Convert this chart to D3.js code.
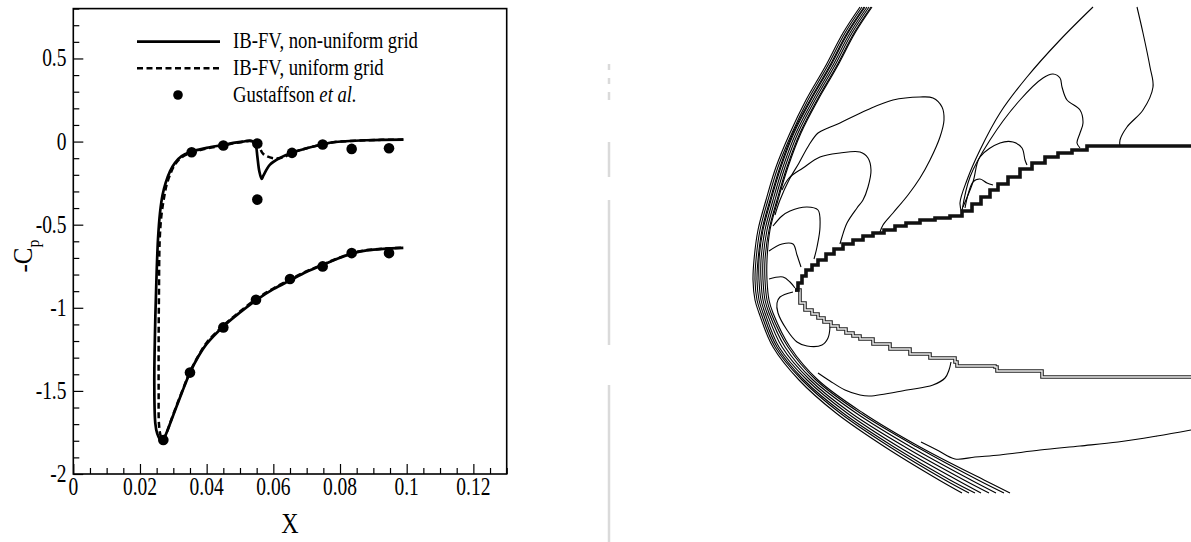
<!DOCTYPE html>
<html>
<head>
<meta charset="utf-8">
<script src="https://cdn.jsdelivr.net/npm/d3@7"></script>
<style>
  html, body { margin: 0; padding: 0; background: #fff; }
  svg { display: block; }
  text { font-family: "Liberation Serif", "Times New Roman", serif; fill: #000; }
</style>
</head>
<body>
<svg id="fig" width="1191" height="542"></svg>
<script>
// ---------- Surface pressure coefficient (left panel) ----------
const xTicks = [0, 0.02, 0.04, 0.06, 0.08, 0.1, 0.12];
const xTickLabels = ["0", "0.02", "0.04", "0.06", "0.08", "0.1", "0.12"];
const yTicks = [-2, -1.5, -1, -0.5, 0, 0.5];
const yTickLabels = ["-2", "-1.5", "-1", "-0.5", "0", "0.5"];

// IB-FV, non-uniform grid: [X, -Cp]
const nonUniform = [
  [0.099, 0.012], [0.088, 0.008], [0.078, -0.004], [0.075, -0.016], [0.070, -0.04],
  [0.066, -0.064], [0.062, -0.098], [0.059, -0.139], [0.057, -0.205], [0.0565, -0.225],
  [0.0558, -0.179], [0.0552, -0.088], [0.0548, -0.028], [0.0542, -0.004], [0.053, 0.006],
  [0.0515, 0.002], [0.048, -0.008], [0.045, -0.02], [0.040, -0.038], [0.0355, -0.06],
  [0.0325, -0.088], [0.0305, -0.128], [0.029, -0.179], [0.0277, -0.249], [0.0268, -0.319],
  [0.026, -0.43], [0.0254, -0.59], [0.0249, -0.851], [0.0245, -1.153], [0.0243, -1.454],
  [0.0246, -1.695], [0.0252, -1.759], [0.026, -1.791], [0.0268, -1.799], [0.0277, -1.765],
  [0.030, -1.645], [0.0325, -1.514], [0.035, -1.39], [0.0375, -1.293], [0.040, -1.217],
  [0.045, -1.112], [0.050, -1.028], [0.055, -0.952], [0.060, -0.888], [0.065, -0.835],
  [0.070, -0.783], [0.075, -0.741], [0.080, -0.699], [0.084, -0.671], [0.088, -0.655],
  [0.093, -0.645], [0.099, -0.639]
];

// IB-FV, uniform grid: [X, -Cp]
const uniform = [
  [0.099, 0.012], [0.088, 0.008], [0.078, -0.004], [0.075, -0.016], [0.070, -0.04],
  [0.066, -0.064], [0.063, -0.095], [0.060, -0.1], [0.057, -0.075], [0.0555, -0.02],
  [0.0545, -0.002], [0.053, 0.004], [0.0515, 0.0], [0.048, -0.01], [0.045, -0.024],
  [0.040, -0.042], [0.0355, -0.066], [0.0325, -0.095], [0.0305, -0.138], [0.0292, -0.19],
  [0.028, -0.26], [0.0272, -0.34], [0.0264, -0.45], [0.0259, -0.6], [0.0257, -0.9],
  [0.0256, -1.2], [0.0256, -1.5], [0.0257, -1.7], [0.0262, -1.77], [0.0268, -1.795],
  [0.0278, -1.76], [0.030, -1.64], [0.0325, -1.51], [0.035, -1.385], [0.0375, -1.29],
  [0.040, -1.21], [0.045, -1.108], [0.050, -1.022], [0.055, -0.946], [0.060, -0.884],
  [0.065, -0.83], [0.070, -0.78], [0.075, -0.738], [0.080, -0.697], [0.084, -0.669],
  [0.088, -0.653], [0.093, -0.644], [0.099, -0.638]
];

// Gustaffson et al. reference data: [X, -Cp]
const gustaffson = [
  [0.0355, -0.064], [0.045, -0.024], [0.0552, -0.012], [0.0552, -0.349], [0.0656, -0.068],
  [0.0748, -0.018], [0.0835, -0.044], [0.0947, -0.04],
  [0.027, -1.795], [0.035, -1.39], [0.045, -1.118], [0.0548, -0.952], [0.065, -0.827],
  [0.0748, -0.751], [0.0835, -0.671], [0.0947, -0.671]
];

const legendLabels = ["IB-FV, non-uniform grid", "IB-FV, uniform grid", "Gustaffson "];

// ---------- Pressure contours around the nose (right panel) ----------
// grid coordinates (i, j), j increasing downward
const shockJ = [7, 33, 67, 100, 133, 167, 200, 230, 260, 280, 300, 313, 347, 380, 413, 447, 480, 493];
const shockLevels = [
  [220, 203, 185, 166, 150, 136, 126, 118, 114, 113, 115, 119, 133, 159, 196, 245, 299, 322],
  [222, 205, 187, 168, 152, 138, 128, 120, 116, 115, 117, 121, 135, 162, 200, 250, 305, 329],
  [224, 207, 189, 170, 153, 140, 130, 122, 118, 117, 119, 123, 137, 164, 203, 254, 310, 335],
  [225, 208, 190, 171, 154, 141, 131, 123, 119, 119, 121, 125, 139, 167, 207, 259, 317, 341],
  [227, 210, 192, 173, 156, 143, 133, 125, 121, 121, 123, 127, 142, 170, 211, 265, 324, 349],
  [229, 212, 194, 175, 158, 145, 135, 127, 123, 123, 125, 129, 145, 173, 216, 271, 331, 356],
  [231, 214, 196, 177, 160, 147, 137, 129, 125, 125, 127, 131, 148, 176, 220, 277, 338, 364],
  [232, 215, 197, 178, 161, 148, 138, 130, 127, 127, 129, 133, 150, 178, 223, 280, 344, 370]
];

const upperSurface = [
  [155, 290], [158, 283], [162, 276], [166, 270], [172, 265], [178, 260], [186, 254], [194, 249],
  [203, 244], [213, 240], [223, 236], [233, 233], [244, 230], [255, 226], [266, 223], [280, 220],
  [295, 218], [310, 216], [322, 211], [332, 204], [341, 197], [350, 190], [358, 184], [368, 177],
  [380, 169], [392, 163], [405, 157], [418, 153], [432, 150], [447, 146], [551, 146]
];

const lowerSurface = [
  [155, 290], [160, 303], [165, 310], [172, 314], [178, 318], [184, 322], [191, 326], [198, 329],
  [206, 333], [213, 336], [220, 339], [233, 344], [250, 349], [270, 354], [290, 358], [315, 362],
  [317, 366], [355, 367], [357, 371], [400, 371], [402, 377], [551, 377]
];

const contourA = [[135, 215], [140, 200], [149, 180], [159, 163], [169, 145], [178, 133], [188, 128], [200, 123], [227, 110], [253, 100], [280, 97], [293, 98], [302, 107], [304, 120], [300, 137], [290, 160], [280, 178], [268, 195], [253, 213], [243, 225], [240, 232]];
const contourB = [[142, 190], [149, 178], [163, 168], [180, 157], [200, 153], [220, 152], [228, 158], [231, 170], [228, 187], [223, 200], [217, 208], [207, 223], [202, 237], [200, 244]];
const contourC = [[133, 226], [142, 216], [150, 211], [167, 207], [178, 210], [180, 227], [177, 247], [174, 259]];
const contourD = [[129, 251], [142, 244], [153, 244], [157, 255], [161, 267]];
const contourE = [[129, 279], [143, 277], [150, 282], [155, 288]];
const contourF = [[153, 292], [140, 297], [137, 303], [138, 313], [147, 330], [157, 342], [167, 346], [182, 345], [188, 338], [190, 327]];
const contourG = [[178, 373], [190, 381], [205, 390], [220, 395], [230, 396], [267, 390], [293, 385], [305, 378], [309, 370], [311, 362]];
const contourH = [[281, 442], [297, 450], [315, 459], [335, 457], [360, 455], [400, 450], [440, 446], [478, 442], [517, 436], [551, 430]];
const contourI = [[453, 7], [420, 40], [387, 77], [360, 113], [340, 150], [327, 180], [320, 203], [322, 213]];
const contourJ = [[322, 211], [330, 177], [350, 140], [380, 100], [403, 78], [413, 74], [420, 78], [422, 87], [427, 100], [440, 110], [443, 123], [440, 133], [437, 143], [440, 148]];
const contourK = [[323, 207], [333, 182], [340, 157], [360, 143], [373, 142], [382, 148], [385, 160], [387, 165]];
const contourL = [[325, 208], [333, 182], [340, 179], [347, 183], [353, 185]];
const contourM = [[497, 7], [503, 33], [510, 67], [513, 87], [503, 110], [487, 127], [480, 140], [480, 146]];

// divider between panels (pixel rows where it is visible)
const dividerRuns = [[64, 70], [78, 84], [92, 100], [142, 177], [200, 345], [385, 542]];

// ================= drawing =================
const svg = d3.select("#fig");
const STRETCH = 1.24;   // the serif lettering is drawn a little tall

function label(parent, px, py, str, size, anchor) {
  return parent.append("text")
    .attr("transform", `translate(${px},${py}) scale(1,${STRETCH})`)
    .attr("text-anchor", anchor || "start")
    .style("font-size", size + "px")
    .text(str);
}

// ---- left panel ----
const frame = { left: 73.3, right: 506.7, top: 8.6, bottom: 474 };
const x = d3.scaleLinear().domain([0, 0.13]).range([frame.left, frame.right]);
const y = d3.scaleLinear().domain([-2, 0.8]).range([frame.bottom, frame.top]);

const left = svg.append("g");

const xMinor = d3.range(0, 0.1301, 0.005).filter(v => !xTicks.some(t => Math.abs(t - v) < 1e-9));
const yMinor = d3.range(-2, 0.801, 0.1).filter(v => !yTicks.some(t => Math.abs(t - v) < 1e-9));

const axes = [
  left.append("g").attr("transform", `translate(0,${frame.bottom})`)
    .call(d3.axisBottom(x).tickValues(xMinor).tickSize(-6).tickFormat("")),
  left.append("g").attr("transform", `translate(0,${frame.bottom})`)
    .call(d3.axisBottom(x).tickValues(xTicks).tickSize(-10).tickFormat("")),
  left.append("g").attr("transform", `translate(${frame.left},0)`)
    .call(d3.axisLeft(y).tickValues(yMinor).tickSize(-6).tickFormat("")),
  left.append("g").attr("transform", `translate(${frame.left},0)`)
    .call(d3.axisLeft(y).tickValues(yTicks).tickSize(-10).tickFormat(""))
];
axes.forEach(g => {
  g.select(".domain").remove();
  g.selectAll(".tick line").attr("stroke", "#000").attr("stroke-width", 1.2);
});

// tick labels
xTicks.forEach((v, i) => label(left, x(v), 495, xTickLabels[i], 19.5, "middle"));
yTicks.forEach((v, i) => label(left, 66.5, y(v) + 8, yTickLabels[i], 19.5, "end"));

left.append("rect")
  .attr("x", frame.left).attr("y", frame.top)
  .attr("width", frame.right - frame.left).attr("height", frame.bottom - frame.top)
  .attr("fill", "none").attr("stroke", "#000").attr("stroke-width", 1.6);

// axis titles
label(left, x(0.065), 533, "X", 24, "middle");

const yTitle = left.append("text")
  .attr("transform", `translate(32,256) rotate(-90) scale(1,1.1)`)
  .attr("text-anchor", "middle")
  .style("font-size", "25px");
yTitle.append("tspan").text("-C");
yTitle.append("tspan").attr("dy", 6).style("font-size", "16px").text("p");

// curves
left.append("clipPath").attr("id", "plotClip")
  .append("rect").attr("x", frame.left).attr("y", frame.top)
  .attr("width", frame.right - frame.left).attr("height", frame.bottom - frame.top);

const line = d3.line().x(d => x(d[0])).y(d => y(d[1])).curve(d3.curveCatmullRom.alpha(0.5));
const plot = left.append("g").attr("clip-path", "url(#plotClip)");

plot.append("path").datum(uniform)
  .attr("d", line).attr("fill", "none").attr("stroke", "#000")
  .attr("stroke-width", 2.5).attr("stroke-dasharray", "6,3.5");
plot.append("path").datum(nonUniform)
  .attr("d", line).attr("fill", "none").attr("stroke", "#000")
  .attr("stroke-width", 2.7).attr("stroke-linejoin", "round");
plot.selectAll("circle.ref").data(gustaffson).join("circle")
  .attr("class", "ref")
  .attr("cx", d => x(d[0])).attr("cy", d => y(d[1])).attr("r", 5.3)
  .attr("fill", "#000");

// legend
const legend = left.append("g");
const legY = [41.7, 68.3, 95];
legend.append("line").attr("x1", 137).attr("x2", 220).attr("y1", legY[0]).attr("y2", legY[0])
  .attr("stroke", "#000").attr("stroke-width", 2.7);
legend.append("line").attr("x1", 137).attr("x2", 220).attr("y1", legY[1]).attr("y2", legY[1])
  .attr("stroke", "#000").attr("stroke-width", 2.5).attr("stroke-dasharray", "6,3.5");
legend.append("circle").attr("cx", 178).attr("cy", legY[2]).attr("r", 4.8).attr("fill", "#000");
legendLabels.forEach((lab, i) => {
  const t = label(legend, 233, legY[i] + 6.7, lab, 18.7, "start");
  if (i === 2) t.append("tspan").style("font-style", "italic").text("et al.");
});

// ---- divider ----
svg.selectAll("line.divider").data(dividerRuns).join("line")
  .attr("class", "divider")
  .attr("x1", 609).attr("x2", 609)
  .attr("y1", d => d[0]).attr("y2", d => d[1])
  .attr("stroke", "#dadada").attr("stroke-width", 2.5);

// ---- right panel ----
const gx = d3.scaleLinear().domain([0, 551]).range([640, 1191]);
const gy = d3.scaleLinear().domain([0, 542]).range([0, 542]);
const right = svg.append("g");

const smooth = d3.line().x(d => gx(d[0])).y(d => gy(d[1])).curve(d3.curveCatmullRom.alpha(0.5));
const stepped = d3.line().x(d => gx(d[0])).y(d => gy(d[1])).curve(d3.curveStepAfter);

// bow shock: tightly packed contour levels
shockLevels.forEach(lv => {
  right.append("path").datum(d3.zip(lv, shockJ))
    .attr("d", smooth).attr("fill", "none").attr("stroke", "#000").attr("stroke-width", 1.1);
});

// field contours
[contourA, contourB, contourC, contourD, contourE, contourF, contourG, contourH,
 contourI, contourJ, contourK, contourL, contourM].forEach(c => {
  right.append("path").datum(c)
    .attr("d", smooth).attr("fill", "none").attr("stroke", "#000").attr("stroke-width", 1.1);
});

// body surfaces on the Cartesian grid (staircase)
right.append("path").datum(lowerSurface)
  .attr("d", stepped).attr("fill", "none").attr("stroke", "#222").attr("stroke-width", 3.6);
right.append("path").datum(lowerSurface)
  .attr("d", stepped).attr("fill", "none").attr("stroke", "#eee").attr("stroke-width", 1.4);
right.append("path").datum(upperSurface)
  .attr("d", stepped).attr("fill", "none").attr("stroke", "#111").attr("stroke-width", 3.6);
</script>
</body>
</html>
